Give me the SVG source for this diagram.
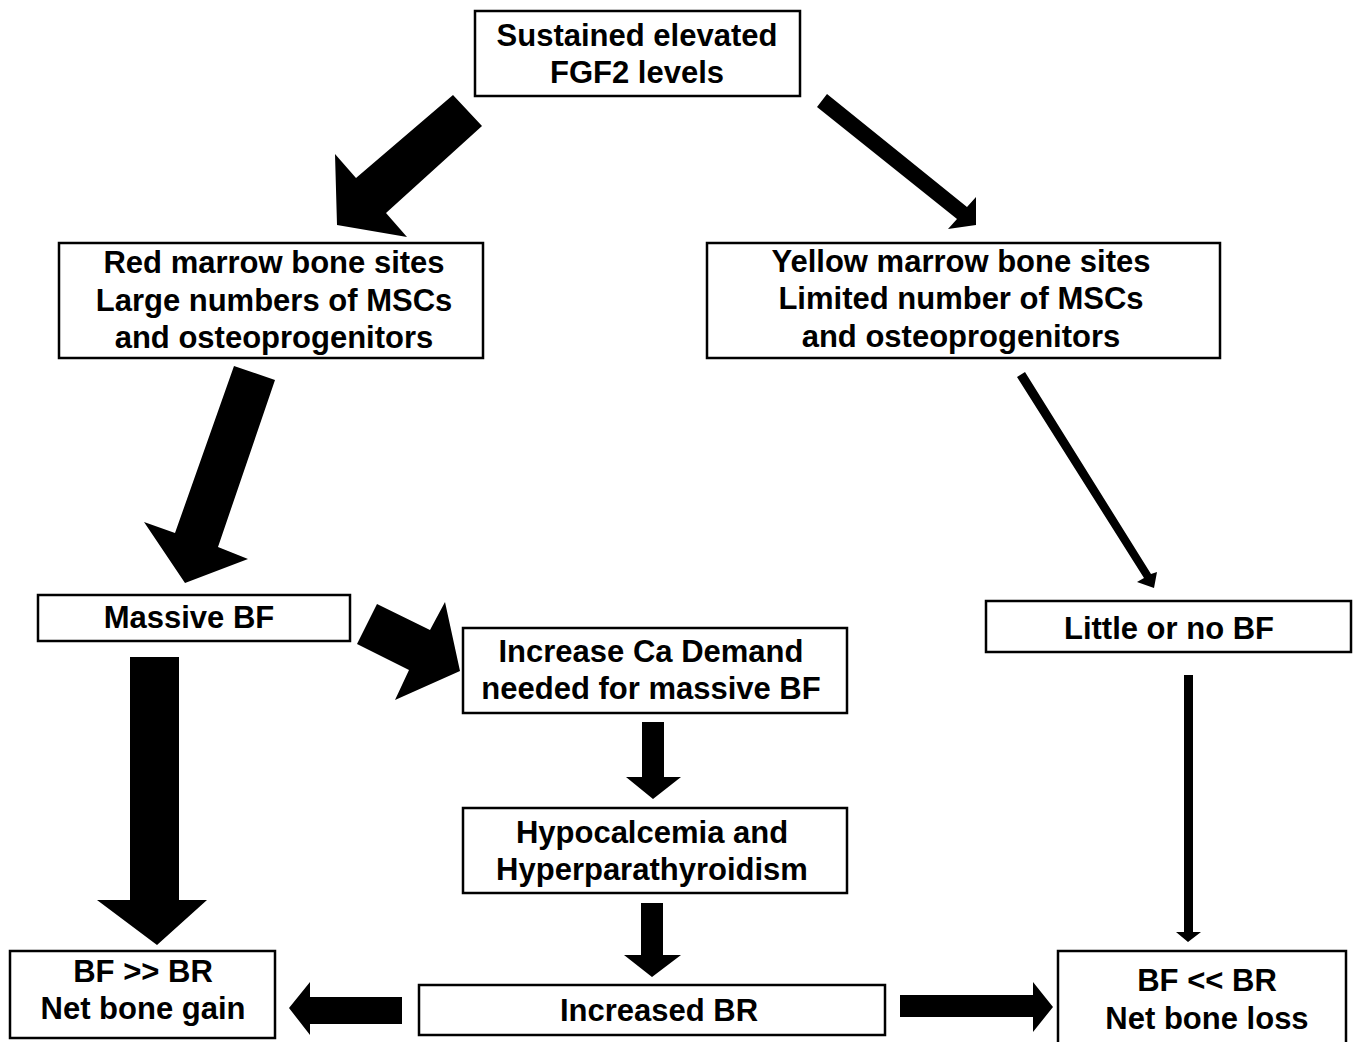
<svg xmlns="http://www.w3.org/2000/svg" width="1355" height="1042" viewBox="0 0 1355 1042">
<style>
.box{fill:#fff;stroke:#000;stroke-width:2.5}
.t{font-family:"Liberation Sans",Arial,sans-serif;font-weight:bold;font-size:31px;fill:#000;text-anchor:middle}
.arr{fill:#000;stroke:none}
</style>
<rect width="1355" height="1042" fill="#fff"/>
<g id="connectors">
<polygon class="arr" points="453,95 482,126 386,213 407,237 337,225 335,154 356,178"/>
<polygon class="arr" points="827,94 967,207 976,197 976,225 948,229 957,219 817,107"/>
<polygon class="arr" points="234,366 275,380 218,547 248,559 185,583 144,522 175,533"/>
<polygon class="arr" points="377,604 430,630 445,602 460,671 395,700 409,670 357,644"/>
<polygon class="arr" points="130,657 179,657 179,900 207,900 157,945 97,900 130,900"/>
<polygon class="arr" points="1017,377 1025,372 1151,574 1157,572 1154,588 1137,582 1144,578"/>
<polygon class="arr" points="642,722 664,722 664,777 681,777 653,799 626,777 642,777"/>
<polygon class="arr" points="641,903 663,903 663,955 681,955 652,977 624,955 641,955"/>
<polygon class="arr" points="1184,675 1193,675 1193,932 1201,932 1188,942 1176,932 1184,932"/>
<polygon class="arr" points="402,997 402,1024 310,1024 310,1035 289,1008 310,982 310,997"/>
<polygon class="arr" points="900,995 1033,995 1033,982 1053,1007 1033,1032 1033,1017 900,1017"/>
</g>
<g id="n1"><rect class="box" x="475" y="11" width="325" height="85"/><text class="t" x="637" y="46">Sustained elevated</text><text class="t" x="637" y="83">FGF2 levels</text></g>
<g id="n2"><rect class="box" x="59" y="243" width="424" height="115"/><text class="t" x="274" y="273">Red marrow bone sites</text><text class="t" x="274" y="311">Large numbers of MSCs</text><text class="t" x="274" y="348">and osteoprogenitors</text></g>
<g id="n3"><rect class="box" x="707" y="243" width="513" height="115"/><text class="t" x="961" y="272">Yellow marrow bone sites</text><text class="t" x="961" y="309">Limited number of MSCs</text><text class="t" x="961" y="347">and osteoprogenitors</text></g>
<g id="n4"><rect class="box" x="38" y="595" width="312" height="46"/><text class="t" x="189" y="628">Massive BF</text></g>
<g id="n5"><rect class="box" x="463" y="628" width="384" height="85"/><text class="t" x="651" y="662">Increase Ca Demand</text><text class="t" x="651" y="699">needed for massive BF</text></g>
<g id="n6"><rect class="box" x="986" y="601" width="365" height="51"/><text class="t" x="1169" y="639">Little or no BF</text></g>
<g id="n7"><rect class="box" x="463" y="808" width="384" height="85"/><text class="t" x="652" y="843">Hypocalcemia and</text><text class="t" x="652" y="880">Hyperparathyroidism</text></g>
<g id="n8"><rect class="box" x="10" y="951" width="265" height="87"/><text class="t" x="143" y="982">BF &gt;&gt; BR</text><text class="t" x="143" y="1019">Net bone gain</text></g>
<g id="n9"><rect class="box" x="419" y="985" width="466" height="50"/><text class="t" x="659" y="1021">Increased BR</text></g>
<g id="n10"><rect class="box" x="1058" y="951" width="288" height="95"/><text class="t" x="1207" y="991">BF &lt;&lt; BR</text><text class="t" x="1207" y="1029">Net bone loss</text></g>
</svg>
